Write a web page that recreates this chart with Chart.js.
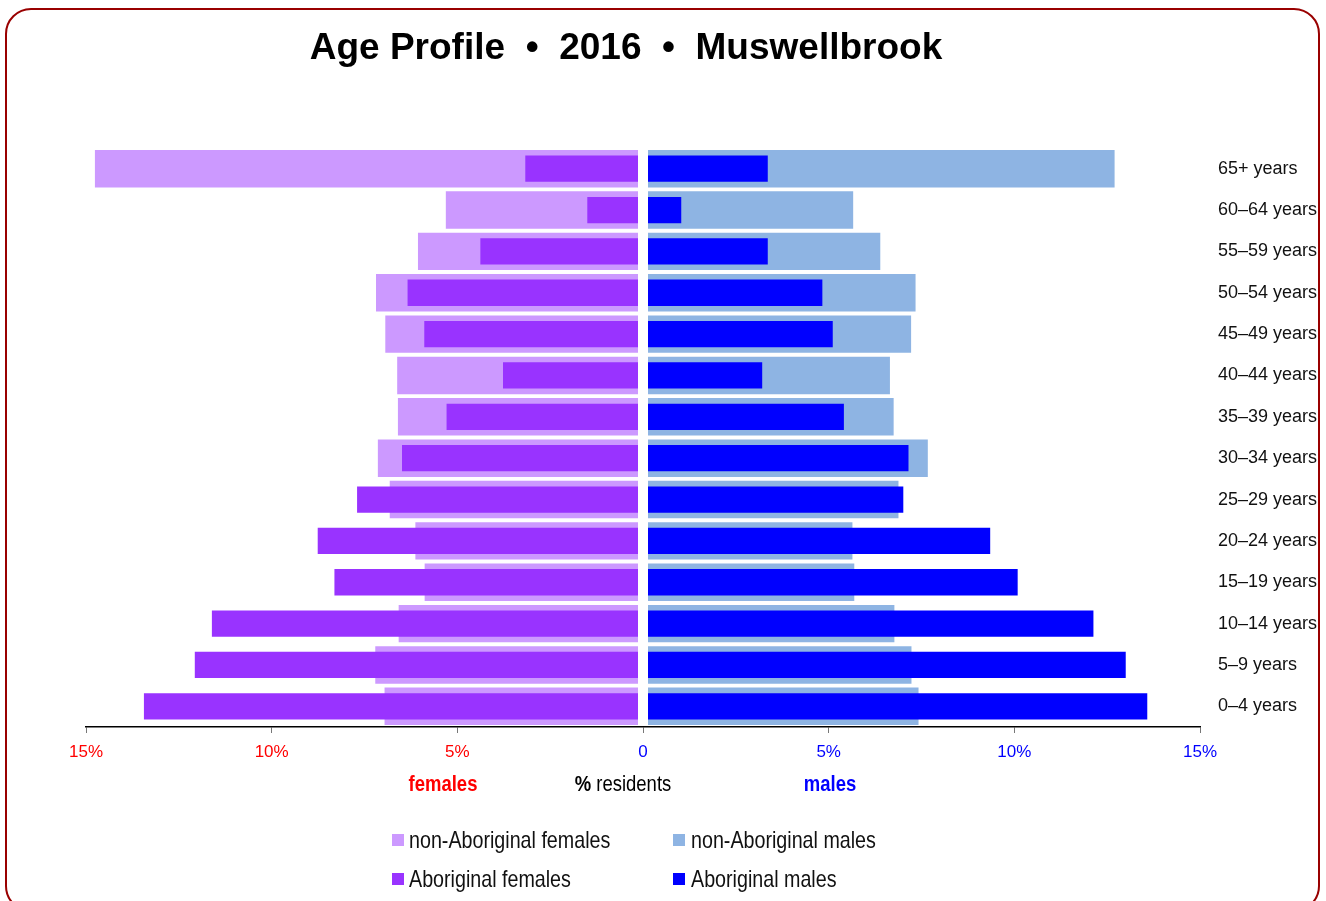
<!DOCTYPE html>
<html>
<head>
<meta charset="utf-8">
<script src="https://cdn.jsdelivr.net/npm/chart.js@4/dist/chart.umd.min.js"></script>
<style>
  body { margin: 0; background: #fff; font-family: "Liberation Sans", Arial, sans-serif; }
  #wrap { position: relative; width: 1326px; height: 901px; overflow: hidden; }
  #frame { position: absolute; left: 5px; top: 8px; width: 1311px; height: 900px; border: 2.5px solid #990000; border-radius: 26px; }
  #chart { position: absolute; left: 0; top: 0; }
  .txt { position: absolute; white-space: nowrap; }
  #title { left: 0; width: 1252px; top: 26px; text-align: center; font: bold 37px "Liberation Sans", Arial, sans-serif; color: #000; }
  .axt { top: 771px; font-size: 22px; transform: translateX(-50%) scaleX(0.84); }
  .leg { font-size: 24px; color: #111; transform: scaleX(0.82); transform-origin: left center; }
  .sw { position: absolute; width: 12px; height: 12px; }
</style>
</head>
<body>
<div id="wrap">
  <div id="frame"></div>
  <canvas id="chart" width="1326" height="901"></canvas>
  <div id="title" class="txt">Age Profile &nbsp;•&nbsp; 2016 &nbsp;•&nbsp; Muswellbrook</div>

  <div class="txt axt" style="left:443px;color:#FF0000;font-weight:bold;">females</div>
  <div class="txt axt" style="left:623px;color:#000;"><b>%</b> residents</div>
  <div class="txt axt" style="left:830px;color:#0000FF;font-weight:bold;">males</div>

  <div class="sw" style="left:392px;top:834px;background:#CC99FF;"></div>
  <div class="txt leg" style="left:409px;top:826px;">non-Aboriginal females</div>
  <div class="sw" style="left:673px;top:834px;background:#8EB4E3;"></div>
  <div class="txt leg" style="left:691px;top:826px;">non-Aboriginal males</div>
  <div class="sw" style="left:392px;top:873px;background:#9933FF;"></div>
  <div class="txt leg" style="left:409px;top:865px;">Aboriginal females</div>
  <div class="sw" style="left:673px;top:873px;background:#0000FF;"></div>
  <div class="txt leg" style="left:691px;top:865px;">Aboriginal males</div>
</div>
<script>
// age groups, oldest at the top
const ageGroups = ['65+ years', '60–64 years', '55–59 years', '50–54 years', '45–49 years',
  '40–44 years', '35–39 years', '30–34 years', '25–29 years', '20–24 years',
  '15–19 years', '10–14 years', '5–9 years', '0–4 years'];

// % of residents in each group
const nonAbFemales = [14.76, 5.31, 6.06, 7.19, 6.94, 6.62, 6.60, 7.14, 6.82, 6.13, 5.88, 6.58, 7.21, 6.96];
const abFemales    = [3.17, 1.50, 4.38, 6.34, 5.89, 3.77, 5.29, 6.49, 7.70, 8.76, 8.31, 11.61, 12.07, 13.44];
const nonAbMales   = [12.70, 5.66, 6.39, 7.34, 7.22, 6.65, 6.75, 7.67, 6.88, 5.64, 5.69, 6.77, 7.23, 7.42];
const abMales      = [3.36, 1.03, 3.36, 4.83, 5.11, 3.21, 5.41, 7.15, 7.01, 9.35, 10.09, 12.13, 13.00, 13.58];

const xTicks = [-15, -10, -5, 0, 5, 10, 15];

// white gap down the middle, between females and males
const centreGap = {
  id: 'centreGap',
  afterDatasetsDraw(chart) {
    const ctx = chart.ctx;
    const area = chart.chartArea;
    const x0 = chart.scales.x.getPixelForValue(0);
    ctx.save();
    ctx.fillStyle = '#fff';
    ctx.fillRect(x0 - 5, area.top, 10, area.bottom - area.top - 1);
    ctx.restore();
  }
};

new Chart(document.getElementById('chart'), {
  type: 'bar',
  data: {
    labels: ageGroups,
    datasets: [
      { label: 'Aboriginal females', data: abFemales.map(v => -v), backgroundColor: '#9933FF',
        barPercentage: 0.636, categoryPercentage: 1, grouped: false },
      { label: 'Aboriginal males', data: abMales, backgroundColor: '#0000FF',
        barPercentage: 0.636, categoryPercentage: 1, grouped: false },
      { label: 'non-Aboriginal females', data: nonAbFemales.map(v => -v), backgroundColor: '#CC99FF',
        barPercentage: 0.905, categoryPercentage: 1, grouped: false },
      { label: 'non-Aboriginal males', data: nonAbMales, backgroundColor: '#8EB4E3',
        barPercentage: 0.905, categoryPercentage: 1, grouped: false }
    ]
  },
  options: {
    indexAxis: 'y',
    responsive: false,
    animation: false,
    layout: { padding: { left: 86, top: 148, right: 0, bottom: 114 } },
    plugins: { legend: { display: false }, tooltip: { enabled: false } },
    scales: {
      x: {
        type: 'linear', min: -15, max: 15,
        afterBuildTicks: s => { s.ticks = xTicks.map(v => ({ value: v })); },
        afterFit: s => { s.height = 60; },
        grid: { drawOnChartArea: false, tickLength: 6, color: '#777' },
        border: { color: '#000', width: 1.5 },
        ticks: {
          padding: 9,
          font: { family: '"Liberation Sans", Arial, sans-serif', size: 17 },
          color: c => (c.tick && c.tick.value < 0) ? '#FF0000' : '#0000FF',
          callback: v => v === 0 ? '0' : Math.abs(v) + '%'
        }
      },
      y: {
        position: 'right',
        afterFit: s => { s.width = 126; },
        grid: { display: false },
        border: { display: false },
        ticks: { padding: 10, color: '#111', font: { family: '"Liberation Sans", Arial, sans-serif', size: 18 } }
      }
    }
  },
  plugins: [centreGap]
});
</script>
</body>
</html>
